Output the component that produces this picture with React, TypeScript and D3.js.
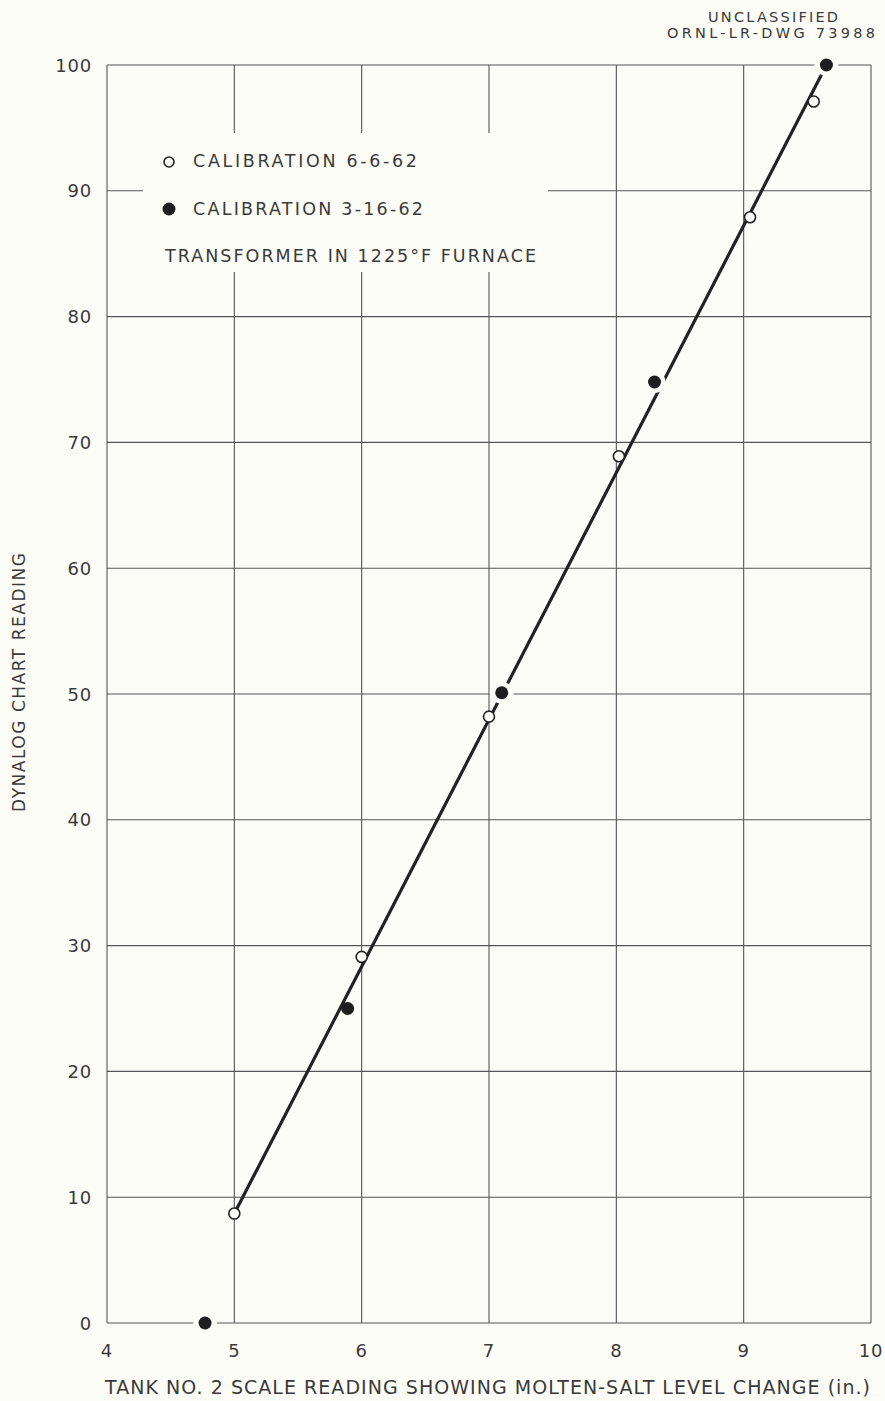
import React from "react";
import * as d3 from "d3";

const xTicks = [4, 5, 6, 7, 8, 9, 10];
const yTicks = [0, 10, 20, 30, 40, 50, 60, 70, 80, 90, 100];

// Calibration 6-6-62 (open circles)
const openX = [5.0, 6.0, 7.0, 8.02, 9.05, 9.55];
const openY = [8.7, 29.1, 48.2, 68.9, 87.9, 97.1];

// Calibration 3-16-62 (filled circles)
const filledX = [4.77, 5.89, 7.1, 8.3, 9.65];
const filledY = [0, 25, 50.1, 74.8, 100];
const filledHalo = [true, false, true, true, true];

// Fitted calibration line endpoints
const lineX = [5.0, 9.63];
const lineY = [8.7, 99.6];

const W = 885;
const H = 1401;
const M = { left: 107, right: 871, top: 65, bottom: 1323 };

export default function App() {
  const x = d3.scaleLinear().domain([4, 10]).range([M.left, M.right]);
  const y = d3.scaleLinear().domain([0, 100]).range([M.bottom, M.top]);
  const line = d3
    .line<number>()
    .x((_, i) => x(lineX[i]))
    .y((d) => y(d));

  const ink = "#3a3a3a";
  const bg = "#fdfdf8";
  const font = "'DejaVu Sans', sans-serif";

  return (
    <svg
      width={W}
      height={H}
      style={{ position: "absolute", left: 0, top: 0, background: bg }}
    >
      <rect x={0} y={0} width={W} height={H} fill={bg} />
      {/* grid */}
      {xTicks.map((t) => (
        <line
          key={"gx" + t}
          x1={x(t)}
          x2={x(t)}
          y1={y(0)}
          y2={y(100)}
          stroke="#555"
          strokeWidth={1.1}
        />
      ))}
      {yTicks.map((t) => (
        <line
          key={"gy" + t}
          x1={x(4)}
          x2={x(10)}
          y1={y(t)}
          y2={y(t)}
          stroke="#555"
          strokeWidth={1.1}
        />
      ))}
      {/* legend background */}
      <rect x={143} y={133} width={405} height={139} fill={bg} />
      {/* halos */}
      {filledX.map((d, i) =>
        filledHalo[i] ? (
          <circle key={"h" + i} cx={x(d)} cy={y(filledY[i])} r={12} fill={bg} />
        ) : null
      )}
      {/* fitted line */}
      <path d={line(lineY) || ""} fill="none" stroke="#222" strokeWidth={3.2} />
      {filledX.map((d, i) =>
        filledHalo[i] ? (
          <circle key={"h2" + i} cx={x(d)} cy={y(filledY[i])} r={11} fill={bg} />
        ) : null
      )}
      {/* filled points */}
      {filledX.map((d, i) => (
        <circle key={"f" + i} cx={x(d)} cy={y(filledY[i])} r={6.5} fill="#1e1e1e" />
      ))}
      {/* open points */}
      {openX.map((d, i) => (
        <circle
          key={"o" + i}
          cx={x(d)}
          cy={y(openY[i])}
          r={5.5}
          fill={bg}
          stroke="#222"
          strokeWidth={1.6}
        />
      ))}
      {/* tick labels */}
      {yTicks.map((t) => (
        <text
          key={"yl" + t}
          x={92}
          y={y(t) + 6.5}
          textAnchor="end"
          fontFamily={font}
          fontSize={18}
          fill={ink}
          letterSpacing={0.8}
        >
          {t}
        </text>
      ))}
      {xTicks.map((t) => (
        <text
          key={"xl" + t}
          x={x(t)}
          y={1357}
          textAnchor="middle"
          fontFamily={font}
          fontSize={18}
          fill={ink}
          letterSpacing={0.8}
        >
          {t}
        </text>
      ))}
      {/* axis titles */}
      <text
        x={105}
        y={1394}
        fontFamily={font}
        fontSize={19}
        fill={ink}
        textLength={765}
        lengthAdjust="spacing"
      >
        TANK NO. 2 SCALE READING SHOWING MOLTEN-SALT LEVEL CHANGE (in.)
      </text>
      <text
        transform={`translate(25, 812) rotate(-90)`}
        fontFamily={font}
        fontSize={17}
        fill={ink}
        textLength={259}
        lengthAdjust="spacing"
      >
        DYNALOG CHART READING
      </text>
      {/* header */}
      <text x={708} y={22} fontFamily={font} fontSize={14.5} fill={ink} textLength={130} lengthAdjust="spacing">
        UNCLASSIFIED
      </text>
      <text x={667} y={38} fontFamily={font} fontSize={14.5} fill={ink} textLength={208} lengthAdjust="spacing">
        ORNL-LR-DWG 73988
      </text>
      {/* legend */}
      <circle cx={169} cy={162} r={5} fill={bg} stroke="#222" strokeWidth={1.6} />
      <text x={193} y={167} fontFamily={font} fontSize={17.5} fill={ink} textLength={224} lengthAdjust="spacing">
        CALIBRATION 6-6-62
      </text>
      <circle cx={169} cy={209} r={6.5} fill="#1e1e1e" />
      <text x={193} y={215} fontFamily={font} fontSize={17.5} fill={ink} textLength={230} lengthAdjust="spacing">
        CALIBRATION 3-16-62
      </text>
      <text x={165} y={262} fontFamily={font} fontSize={17.5} fill={ink} textLength={371} lengthAdjust="spacing">
        TRANSFORMER IN 1225°F FURNACE
      </text>
    </svg>
  );
}
